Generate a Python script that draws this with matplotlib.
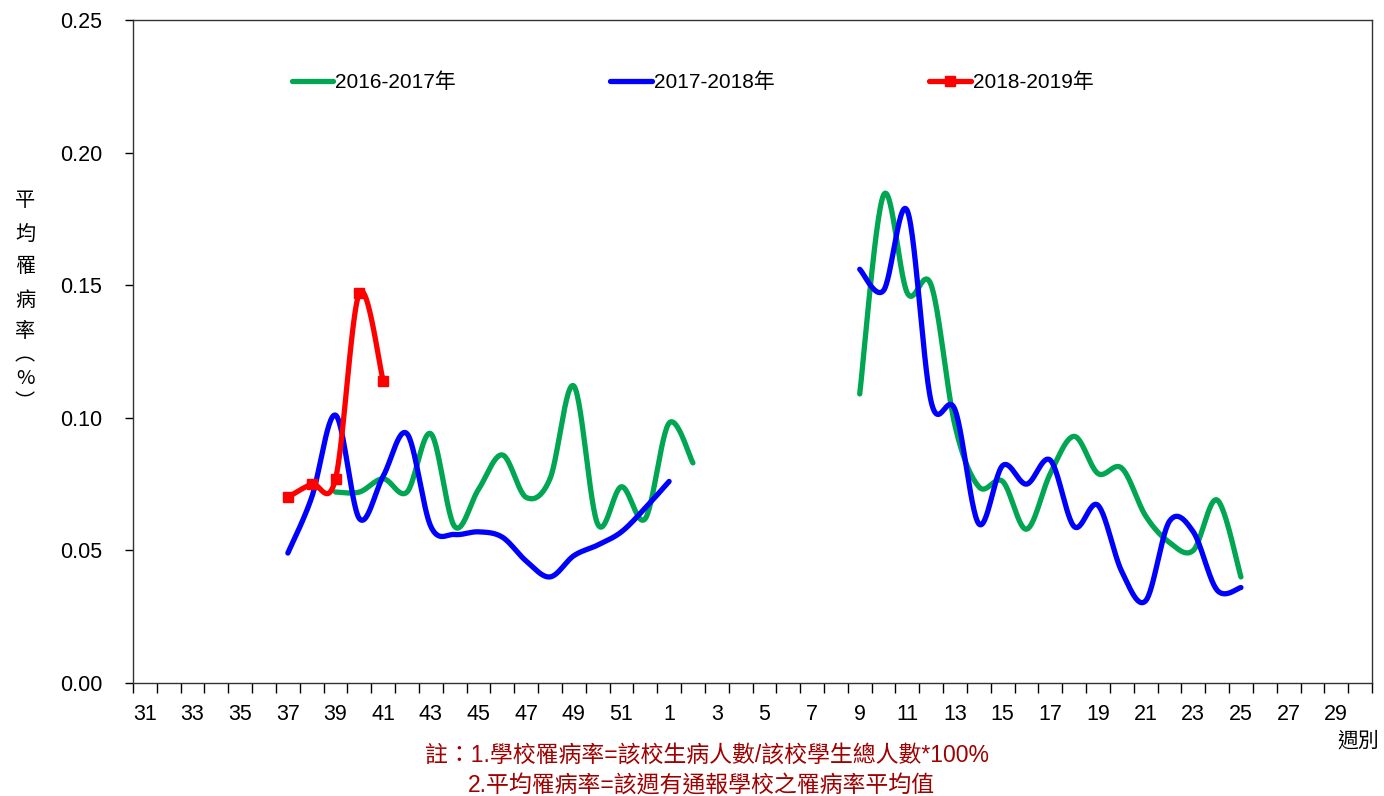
import numpy as np
import matplotlib
matplotlib.use("Agg")
import matplotlib.pyplot as plt
from matplotlib.lines import Line2D

plt.rcParams['font.family'] = ['Liberation Sans', 'Noto Sans CJK TC', 'DejaVu Sans']

weeks = list(range(31, 53)) + list(range(1, 31))
labels = [str(w) if w % 2 == 1 else "" for w in weeks]

# values by week (missing weeks = no data)
s1617 = {39: 0.072, 40: 0.072, 41: 0.077, 42: 0.072, 43: 0.094, 44: 0.059, 45: 0.073,
         46: 0.086, 47: 0.070, 48: 0.077, 49: 0.112, 50: 0.060, 51: 0.074, 52: 0.062,
         1: 0.098, 2: 0.083,
         9: 0.109, 10: 0.184, 11: 0.147, 12: 0.150, 13: 0.097, 14: 0.074, 15: 0.076,
         16: 0.058, 17: 0.079, 18: 0.093, 19: 0.079, 20: 0.081, 21: 0.063, 22: 0.053,
         23: 0.050, 24: 0.069, 25: 0.040}
s1718 = {37: 0.049, 38: 0.070, 39: 0.101, 40: 0.062, 41: 0.078, 42: 0.094, 43: 0.059,
         44: 0.056, 45: 0.057, 46: 0.055, 47: 0.046, 48: 0.040, 49: 0.048, 50: 0.052,
         51: 0.057, 52: 0.066, 1: 0.076,
         9: 0.156, 10: 0.148, 11: 0.178, 12: 0.106, 13: 0.103, 14: 0.060, 15: 0.082,
         16: 0.075, 17: 0.084, 18: 0.059, 19: 0.067, 20: 0.042, 21: 0.031, 22: 0.061,
         23: 0.057, 24: 0.035, 25: 0.036}
s1819 = {37: 0.070, 38: 0.075, 39: 0.077, 40: 0.147, 41: 0.114}

series = [("2016-2017年", s1617, "#00A651", None),
          ("2017-2018年", s1718, "#0000FF", None),
          ("2018-2019年", s1819, "#FF0000", "s")]


def catmull(xs, ys, n=30):
    xs = np.asarray(xs, float); ys = np.asarray(ys, float)
    if len(xs) < 2:
        return xs, ys
    P = np.column_stack([xs, ys])
    P = np.vstack([P[0], P, P[-1]])
    out = []
    for i in range(1, len(P) - 2):
        p0, p1, p2, p3 = P[i - 1], P[i], P[i + 1], P[i + 2]
        c1 = p1 + (p2 - p0) / 6.0
        c2 = p2 - (p3 - p1) / 6.0
        t = np.linspace(0, 1, n)[:, None]
        seg = ((1 - t) ** 3) * p1 + 3 * ((1 - t) ** 2) * t * c1 + 3 * (1 - t) * t ** 2 * c2 + t ** 3 * p2
        out.append(seg if i == 1 else seg[1:])
    out = np.vstack(out)
    return out[:, 0], out[:, 1]


fig = plt.figure(figsize=(13.84, 7.96), dpi=100)
ax = fig.add_axes([133 / 1384, 1 - 683 / 796, (1372 - 133) / 1384, (683 - 20) / 796])

handles = []
for name, data, color, marker in series:
    idx = [i for i, w in enumerate(weeks) if w in data]
    runs = []
    cur = []
    for i in idx:
        if cur and i != cur[-1] + 1:
            runs.append(cur); cur = []
        cur.append(i)
    if cur:
        runs.append(cur)
    for r in runs:
        yv = [data[weeks[i]] for i in r]
        sx, sy = catmull(r, yv)
        ax.plot(sx, sy, color=color, lw=3.8, solid_capstyle='round', zorder=3)
        if marker:
            ax.plot(r, yv, ls='none', marker=marker, ms=7.5, color=color, zorder=4)
    handles.append(Line2D([], [], color=color, lw=3.8, marker=marker, ms=7.5,
                          solid_capstyle='round', label=name))

ax.set_xlim(-0.5, len(weeks) - 0.5)
ax.set_ylim(0, 0.25)
ax.set_yticks([0, 0.05, 0.10, 0.15, 0.20, 0.25])
ax.set_yticklabels(["0.00", "0.05", "0.10", "0.15", "0.20", "0.25"])
ax.tick_params(axis='y', length=6, width=1, pad=16, labelsize=15.5, direction='out')

ax.set_xticks(np.arange(-0.5, len(weeks), 1.0))
ax.set_xticklabels([])
ax.set_xticks(np.arange(len(weeks)), minor=True)
ax.set_xticklabels(labels, minor=True)
ax.tick_params(axis='x', which='major', length=7, width=1, direction='out')
ax.tick_params(axis='x', which='minor', length=0, pad=15, labelsize=15.5)

for s in ax.spines.values():
    s.set_color('#333333')
    s.set_linewidth(1.0)

leg = ax.legend(handles=handles, ncol=3, loc='center left', bbox_to_anchor=(0.1129, 0.9065),
                frameon=False, fontsize=15, handlelength=2.0, handletextpad=0.1,
                columnspacing=7.4)

# vertical y-axis label
ylab = ["平", "均", "罹", "病", "率", "︵", "%", "︶"]
ypos = [200, 234, 267, 300, 332, 355, 379, 403]
for ch, yp in zip(ylab, ypos):
    fig.text(25 / 1384, 1 - yp / 796, ch, ha='center', va='center', fontsize=14.5,
             family=['Noto Sans CJK TC', 'DejaVu Sans'])

fig.text(1358 / 1384, 1 - 741 / 796, "週別", ha='center', va='center', fontsize=15,
         family=['Noto Sans CJK TC', 'DejaVu Sans'])

note_color = '#A00000'
fig.text(425 / 1384, 1 - 755 / 796, "註：1.學校罹病率=該校生病人數/該校學生總人數*100%",
         ha='left', va='center', fontsize=16.5, color=note_color,
         family=['Liberation Sans', 'Noto Sans CJK TC'])
fig.text(468 / 1384, 1 - 786 / 796, "2.平均罹病率=該週有通報學校之罹病率平均值",
         ha='left', va='center', fontsize=16.5, color=note_color,
         family=['Liberation Sans', 'Noto Sans CJK TC'])

fig.savefig("out.png", dpi=100)
